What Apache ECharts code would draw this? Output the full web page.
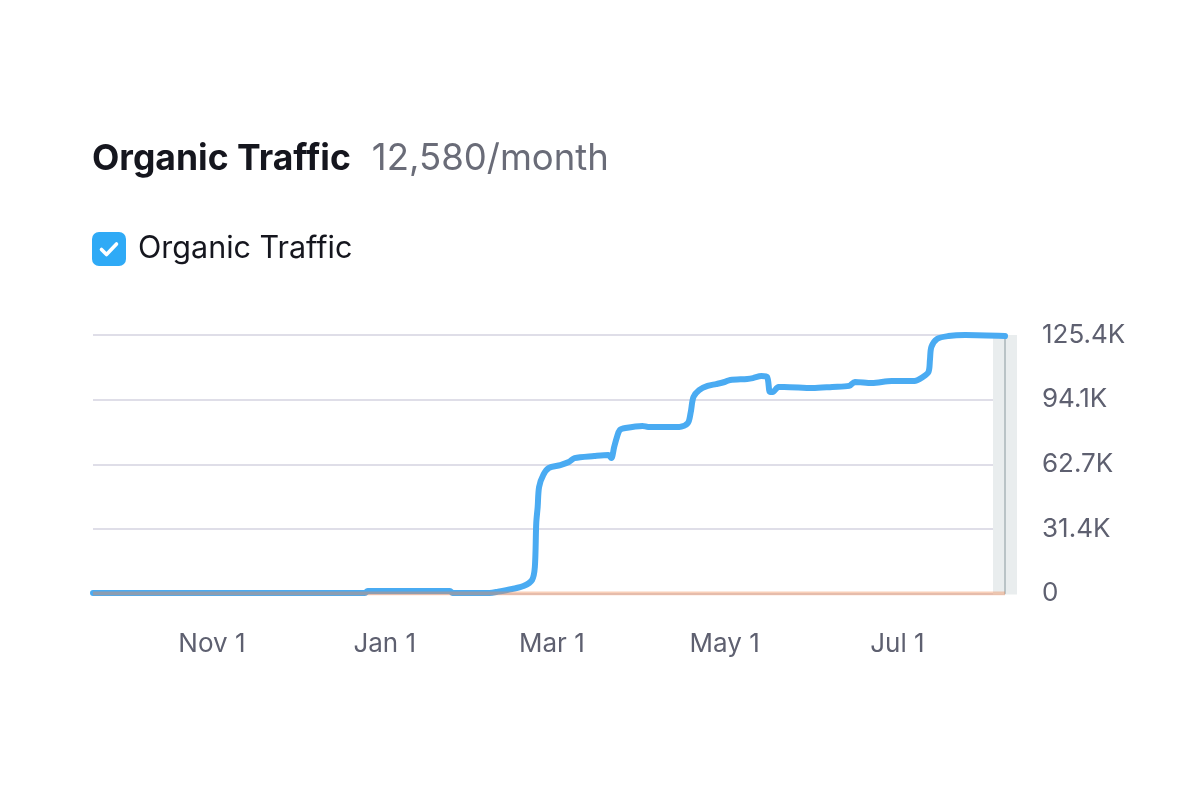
<!DOCTYPE html>
<html>
<head>
<meta charset="utf-8">
<script src="https://cdn.jsdelivr.net/npm/echarts@6/dist/echarts.min.js"></script>
<style>
  html, body { margin: 0; padding: 0; background: #ffffff; }
  #chart { width: 1200px; height: 800px; }
</style>
</head>
<body>
<div id="chart"></div>
<script>
// ---- data ----
const titleText = 'Organic Traffic';
const subtitleText = '12,580/month';
const seriesName = 'Organic Traffic';

const trafficDates = [
  '2022-09-20', '2022-12-25', '2022-12-26', '2023-01-24', '2023-01-25',
  '2023-02-07', '2023-02-10', '2023-02-15', '2023-02-19', '2023-02-22',
  '2023-02-23 00:00', '2023-02-23 12:00', '2023-02-24 00:00', '2023-02-24 12:00', '2023-02-26',
  '2023-02-28', '2023-03-04', '2023-03-07', '2023-03-09', '2023-03-16',
  '2023-03-21', '2023-03-22', '2023-03-23', '2023-03-24', '2023-03-25',
  '2023-03-27', '2023-04-02', '2023-04-04', '2023-04-15', '2023-04-18',
  '2023-04-19', '2023-04-20', '2023-04-22', '2023-04-25', '2023-04-28',
  '2023-05-01', '2023-05-03', '2023-05-09', '2023-05-11', '2023-05-14',
  '2023-05-16', '2023-05-17', '2023-05-18', '2023-05-20', '2023-05-22',
  '2023-06-01', '2023-06-08', '2023-06-14', '2023-06-16', '2023-06-22',
  '2023-06-29', '2023-07-07', '2023-07-10', '2023-07-12 00:00', '2023-07-12 12:00',
  '2023-07-13', '2023-07-15', '2023-07-19', '2023-07-25', '2023-08-08'
];
const trafficValues = [
  200, 200, 1200, 1200, 200,
  300, 900, 2200, 3600, 6500,
  12800, 34200, 42000, 51700, 57500,
  60900, 62300, 63800, 65700, 66700,
  67200, 65700, 71000, 75900, 79300,
  80300, 81300, 80800, 80800, 82700,
  87600, 95300, 98700, 100700, 101600,
  102600, 103600, 104100, 104500, 105500,
  105000, 97800, 97800, 100200, 100200,
  99700, 100200, 100700, 102600, 102100,
  103100, 103100, 105000, 107500, 113300,
  119600, 123500, 124900, 125400, 124900
];

const otherDates = ['2022-09-20', '2023-08-08'];
const otherValues = [0, 0];

const xMin = '2022-09-20';
const xMax = '2023-08-08';
const xTickDates = ['2022-11-01', '2023-01-01', '2023-03-01', '2023-05-01', '2023-07-01'];
const monthNames = ['Jan','Feb','Mar','Apr','May','Jun','Jul','Aug','Sep','Oct','Nov','Dec'];

const yMax = 125400;
const yInterval = 31350;
const yTickLabels = ['0', '31.4K', '62.7K', '94.1K', '125.4K'];

// ---- chart ----
function parse(s) {
  const m = s.match(/(\d+)-(\d+)-(\d+)(?:\s+(\d+):(\d+))?/);
  return new Date(+m[1], +m[2] - 1, +m[3], m[4] ? +m[4] : 0, m[5] ? +m[5] : 0).getTime();
}
const blueData = trafficDates.map((d, i) => [parse(d), trafficValues[i]]);
const orangeData = otherDates.map((d, i) => [parse(d), otherValues[i]]);

const checkSvg = "<svg xmlns='http://www.w3.org/2000/svg' width='34' height='34' viewBox='0 0 34 34'>" +
  "<rect x='0' y='0' width='34' height='34' rx='7' ry='7' fill='#2faaf6'/>" +
  "<path d='M9.5 17.5 L14.5 22.5 L24.5 12' fill='none' stroke='#ffffff' stroke-width='3.6' stroke-linecap='round' stroke-linejoin='round'/></svg>";
const checkIcon = 'image://data:image/svg+xml;charset=utf-8,' + encodeURIComponent(checkSvg);

const chart = echarts.init(document.getElementById('chart'), null, { renderer: 'canvas' });

const FONT = 'Inter, "Noto Sans", sans-serif';

chart.setOption({
  backgroundColor: '#ffffff',
  animation: false,
  title: {
    left: 92,
    top: 141,
    padding: 0,
    text: '{a|' + titleText + '}{gap|}{b|' + subtitleText + '}',
    textStyle: {
      rich: {
        a: { fontFamily: FONT, fontSize: 35.5, fontWeight: 700, color: '#15161e' },
        gap: { width: 21 },
        b: { fontFamily: FONT, fontSize: 36.5, fontWeight: 400, color: '#6a6c78' }
      }
    }
  },
  legend: {
    left: 92,
    top: 232,
    padding: 0,
    data: [{ name: seriesName, icon: checkIcon }],
    itemWidth: 34,
    itemHeight: 34,
    selectedMode: false,
    textStyle: { fontFamily: FONT, fontSize: 30.5, color: '#15161e', padding: [10, 0, 0, 7] }
  },
  grid: { left: 93, right: 195, top: 335, bottom: 206.5, containLabel: false },
  xAxis: {
    type: 'value',
    min: parse(xMin),
    max: parse(xMax),
    axisLine: { show: false },
    axisTick: { show: false },
    splitLine: { show: false },
    axisLabel: {
      customValues: xTickDates.map(parse),
      margin: 38,
      fontFamily: FONT,
      fontSize: 26,
      color: '#5e6070',
      formatter: function (val) {
        const d = new Date(val);
        return monthNames[d.getMonth()] + ' ' + d.getDate();
      }
    }
  },
  yAxis: {
    type: 'value',
    position: 'right',
    min: 0,
    max: yMax,
    interval: yInterval,
    axisLine: { show: true, lineStyle: { color: '#a9b4b8', width: 1.5 } },
    axisTick: { show: false },
    splitLine: { show: true, lineStyle: { color: '#dfdee8', width: 2 } },
    axisLabel: {
      margin: 37,
      fontFamily: FONT,
      fontSize: 26,
      color: '#5e6070',
      formatter: function (v) { return yTickLabels[Math.round(v / yInterval)]; }
    }
  },
  series: [
    {
      name: seriesName,
      type: 'line',
      data: blueData,
      showSymbol: false,
      smooth: 0.3,
      lineStyle: { color: '#4aabf2', width: 6, cap: 'round', join: 'round' },
      itemStyle: { color: '#4aabf2' },
      z: 3
    },
    {
      name: 'Other',
      type: 'line',
      data: orangeData,
      showSymbol: false,
      lineStyle: { color: '#f08a50', width: 4, opacity: 0.4 },
      itemStyle: { color: '#f08a50' },
      z: 4
    }
  ]
});

// hover band at the last data point
const lastPt = blueData[blueData.length - 1][0];
const xPix = chart.convertToPixel({ xAxisIndex: 0 }, lastPt);
const yTop = chart.convertToPixel({ yAxisIndex: 0 }, yMax);
const yBot = chart.convertToPixel({ yAxisIndex: 0 }, 0);
chart.setOption({
  graphic: [{
    type: 'rect',
    z: 0,
    zlevel: 0,
    silent: true,
    shape: { x: xPix - 12, y: yTop, width: 24, height: yBot - yTop + 1 },
    style: { fill: '#e9edee' }
  }]
});
</script>
</body>
</html>
